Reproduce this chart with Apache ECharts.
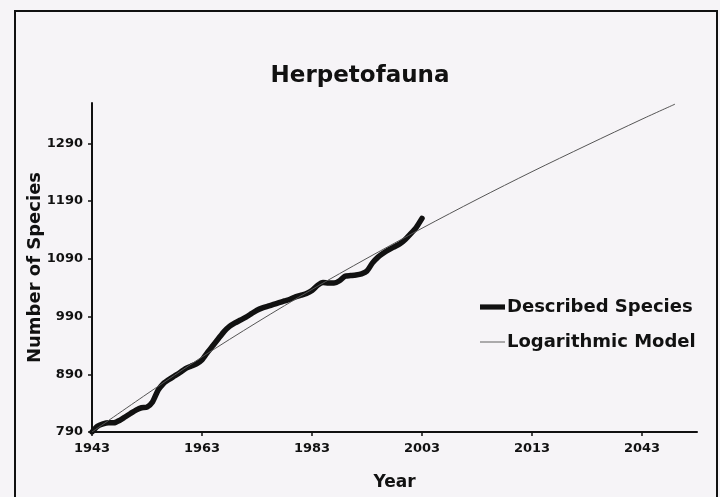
<!DOCTYPE html>
<html>
<head>
<meta charset="utf-8">
<script src="https://cdn.jsdelivr.net/npm/echarts@6/dist/echarts.min.js"></script>
<style>
  html, body { margin: 0; padding: 0; background: #f6f4f7; }
  #chart { width: 720px; height: 497px; }
</style>
</head>
<body>
<div id="chart"></div>
<script>
// described species, one reading per year
const describedYears = [
  1943, 1944, 1945, 1946, 1947, 1948, 1949, 1950, 1951, 1952,
  1953, 1954, 1955, 1956, 1957, 1958, 1959, 1960, 1961, 1962,
  1963, 1964, 1965, 1966, 1967, 1968, 1969, 1970, 1971, 1972,
  1973, 1974, 1975, 1976, 1977, 1978, 1979, 1980, 1981, 1982,
  1983, 1984, 1985, 1986, 1987, 1988, 1989, 1990, 1991, 1992,
  1993, 1994, 1995, 1996, 1997, 1998, 1999, 2000, 2001, 2002,
  2003
];
const describedCounts = [
  790, 800, 804, 806, 806, 810, 816, 822, 828, 832,
  833, 842, 862, 874, 881, 887, 893, 900, 904, 908,
  915, 928, 940, 952, 964, 973, 979, 984, 989, 995,
  1001, 1005, 1008, 1011, 1014, 1017, 1020, 1024, 1027, 1030,
  1035, 1044, 1049, 1048, 1048, 1052, 1060, 1061, 1062, 1064,
  1069, 1083, 1093, 1100, 1106, 1111, 1116, 1124, 1134, 1145,
  1160
];

// logarithmic model curve
const modelYears = [1943, 1953, 1963, 1973, 1983, 1993, 2003, 2013, 2023, 2033, 2043, 2049];
const modelCounts = [790, 856, 920, 980, 1037, 1091, 1143, 1193, 1241, 1287, 1332, 1358];

// axis ticks and the labels printed under them
const xTickValues = [1943, 1963, 1983, 2003, 2023, 2043];
const xTickLabels = ['1943', '1963', '1983', '2003', '2013', '2043'];
const yTickValues = [790, 890, 990, 1090, 1190, 1290];

const font = 'DejaVu Sans';
const chart = echarts.init(document.getElementById('chart'));

const pairs = (xs, ys) => xs.map((x, i) => [x, ys[i]]);

const option = {
  backgroundColor: '#f6f4f7',
  animation: false,
  title: {
    text: 'Herpetofauna',
    left: 'center',
    top: 60,
    textStyle: { fontFamily: font, fontSize: 23, fontWeight: 'bold', color: '#111' }
  },
  graphic: [
    {
      type: 'rect',
      shape: { x: 15, y: 11, width: 702, height: 500 },
      style: { fill: null, stroke: '#111', lineWidth: 2 },
      silent: true
    }
  ],
  grid: { left: 92, right: 23, top: 103, bottom: 65 },
  legend: {
    orient: 'vertical',
    left: 475,
    top: 293,
    itemWidth: 25,
    itemHeight: 14,
    itemGap: 17,
    symbolKeepAspect: true,
    itemStyle: { borderWidth: 0 },
    textStyle: { fontFamily: font, fontSize: 18, fontWeight: 'bold', color: '#111', padding: [0, 0, 0, -3] },
    data: [
      { name: 'Described Species', icon: 'path://M0,0L24,0L24,5L0,5Z' },
      { name: 'Logarithmic Model', icon: 'path://M0,0L24,0L24,1L0,1Z' }
    ]
  },
  xAxis: {
    type: 'value',
    min: 1943,
    max: 2053,
    name: 'Year',
    nameLocation: 'middle',
    nameGap: 42,
    nameMoveOverlap: false,
    nameTextStyle: { fontFamily: font, fontSize: 17, fontWeight: 'bold', color: '#111' },
    splitLine: { show: false },
    axisLine: { lineStyle: { color: '#111', width: 2 } },
    axisTick: { show: true, length: 4, customValues: xTickValues, lineStyle: { color: '#111', width: 1.5 } },
    axisLabel: {
      customValues: xTickValues,
      margin: 10,
      fontFamily: font,
      fontSize: 13,
      fontWeight: 'bold',
      color: '#111',
      formatter: v => xTickLabels[xTickValues.indexOf(v)]
    }
  },
  yAxis: {
    type: 'value',
    min: 790,
    max: 1360,
    name: 'Number of Species',
    nameLocation: 'middle',
    nameGap: 48,
    nameMoveOverlap: false,
    nameTextStyle: { fontFamily: font, fontSize: 18, fontWeight: 'bold', color: '#111' },
    splitLine: { show: false },
    axisLine: { show: true, lineStyle: { color: '#111', width: 2 } },
    axisTick: { show: true, length: 4, customValues: yTickValues, lineStyle: { color: '#111', width: 1.5 } },
    axisLabel: {
      customValues: yTickValues,
      margin: 9,
      fontFamily: font,
      fontSize: 13,
      fontWeight: 'bold',
      color: '#111',
      formatter: v => String(v)
    }
  },
  series: [
    {
      name: 'Logarithmic Model',
      type: 'line',
      data: pairs(modelYears, modelCounts),
      smooth: 0.3,
      showSymbol: false,
      symbol: 'none',
      z: 3,
      lineStyle: { color: '#555', width: 1 },
      itemStyle: { color: '#666' }
    },
    {
      name: 'Described Species',
      type: 'line',
      data: pairs(describedYears, describedCounts),
      smooth: 0.2,
      showSymbol: false,
      symbol: 'none',
      z: 2,
      lineStyle: { color: '#111', width: 5.5, cap: 'round', join: 'round' },
      itemStyle: { color: '#111' }
    }
  ]
};

chart.setOption(option);
</script>
</body>
</html>
